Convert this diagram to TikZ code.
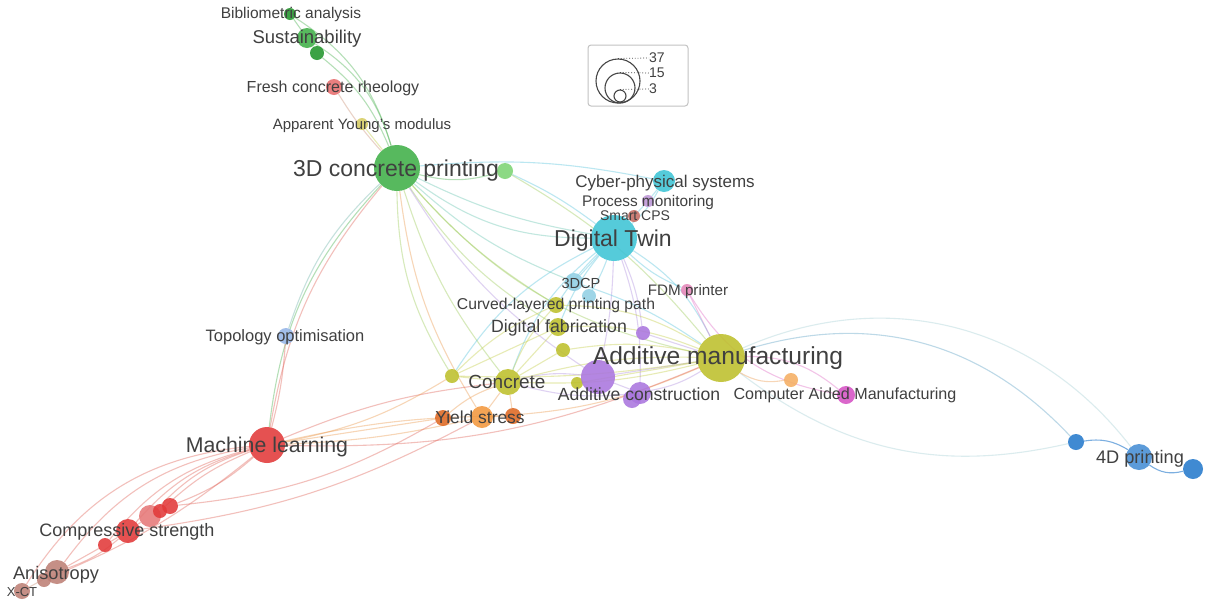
\documentclass[tikz,border=0pt]{standalone}
\usepackage{fontspec}
\setmainfont{Liberation Sans}
\pgfdeclarelayer{back}
\pgfdeclarelayer{bg}
\pgfsetlayers{back,bg,main}
\definecolor{txt}{RGB}{64,64,64}
\definecolor{cgreen}{RGB}{64,176,72}
\definecolor{cdkgreen}{RGB}{34,150,44}
\definecolor{clgreen}{RGB}{125,212,115}
\definecolor{cred}{RGB}{226,58,58}
\definecolor{clred}{RGB}{232,110,110}
\definecolor{cpred}{RGB}{230,120,120}
\definecolor{cyel}{RGB}{190,192,44}
\definecolor{cyell}{RGB}{215,205,100}
\definecolor{ccyan}{RGB}{62,196,214}
\definecolor{clcyan}{RGB}{145,208,228}
\definecolor{cpurp}{RGB}{170,118,222}
\definecolor{clpurp}{RGB}{190,150,215}
\definecolor{corange}{RGB}{243,152,62}
\definecolor{cdorange}{RGB}{222,104,34}
\definecolor{clorange}{RGB}{245,175,100}
\definecolor{cmag}{RGB}{214,82,196}
\definecolor{cpink}{RGB}{228,135,185}
\definecolor{cblue}{RGB}{38,122,204}
\definecolor{cmblue}{RGB}{70,142,212}
\definecolor{clblue}{RGB}{150,182,232}
\definecolor{cbrown}{RGB}{190,128,118}
\definecolor{cbrred}{RGB}{200,110,100}
\definecolor{gE}{RGB}{80,180,85}
\definecolor{gcE}{RGB}{110,200,180}
\definecolor{cE}{RGB}{95,198,222}
\definecolor{yE}{RGB}{198,208,80}
\definecolor{ygE}{RGB}{160,205,95}
\definecolor{rE}{RGB}{226,105,95}
\definecolor{oE}{RGB}{236,158,85}
\definecolor{pE}{RGB}{180,150,226}
\definecolor{mE}{RGB}{226,115,200}
\definecolor{bE}{RGB}{100,165,200}
\definecolor{lbE}{RGB}{170,210,215}
\definecolor{brE}{RGB}{205,150,125}
\definecolor{gbE}{RGB}{120,185,175}
\definecolor{legc}{RGB}{70,70,70}
\definecolor{legbox}{RGB}{195,195,195}
\newcommand\lsz[1]{\fontsize{#1}{#1}\selectfont}
\begin{document}
\begin{tikzpicture}[x=1pt,y=-1pt,
  dot/.style={circle,inner sep=0pt,draw=none,fill opacity=0.88},
  lbl/.style={text=txt,inner sep=0pt,text depth=0pt},
  e/.style={line width=1.1pt,draw opacity=0.42},
  legcirc/.style={circle,inner sep=0pt,draw=legc,line width=1.1pt}]
\useasboundingbox (0,0) rectangle (1207,603);
\begin{pgfonlayer}{back}
\fill[white] (0,0) rectangle (1207,603);
\end{pgfonlayer}

% ---------- nodes (circles) ----------
\node[dot,fill=cdkgreen,minimum size=12] (bib) at (290,14) {};
\node[dot,fill=cgreen,minimum size=20] (sus) at (307,38) {};
\node[dot,fill=cdkgreen,minimum size=14] (g3) at (317,53) {};
\node[dot,fill=clred,minimum size=16] (frc) at (334,87) {};
\node[dot,fill=cyell,minimum size=12] (ayg) at (362,124) {};
\node[dot,fill=cgreen,minimum size=46] (c3d) at (397,168) {};
\node[dot,fill=clgreen,minimum size=16] (g4) at (505,171) {};
\node[dot,fill=ccyan,minimum size=22] (cps) at (664,181) {};
\node[dot,fill=clpurp,minimum size=12] (pm) at (648,201) {};
\node[dot,fill=cbrred,minimum size=12] (scps) at (634,216) {};
\node[dot,fill=ccyan,minimum size=46] (dt) at (614,238) {};
\node[dot,fill=clcyan,minimum size=18] (dcp) at (574,282) {};
\node[dot,fill=clcyan,minimum size=14] (c2) at (589,296) {};
\node[dot,fill=cpink,minimum size=12] (fdm) at (687,290) {};
\node[dot,fill=cyel,minimum size=16] (cur) at (556,305) {};
\node[dot,fill=cyel,minimum size=18] (dfab) at (558,327) {};
\node[dot,fill=cyel,minimum size=14] (y3) at (563,350) {};
\node[dot,fill=cpurp,minimum size=14] (p2) at (643,333) {};
\node[dot,fill=cyel,minimum size=48] (am) at (721,358) {};
\node[dot,fill=cyel,minimum size=26] (con) at (508,382) {};
\node[dot,fill=cyel,minimum size=14] (y4) at (452,376) {};
\node[dot,fill=cyel,minimum size=12] (y5) at (577,383) {};
\node[dot,fill=cpurp,minimum size=34] (p1) at (598,377) {};
\node[dot,fill=cpurp,minimum size=22] (acon) at (640,393) {};
\node[dot,fill=cpurp,minimum size=18] (p3) at (632,399) {};
\node[dot,fill=clorange,minimum size=14] (o1) at (791,380) {};
\node[dot,fill=cmag,minimum size=18] (cam) at (846,395) {};
\node[dot,fill=corange,minimum size=22] (ys) at (482,417) {};
\node[dot,fill=cdorange,minimum size=16] (o2) at (443,418) {};
\node[dot,fill=cdorange,minimum size=16] (o3) at (513,416) {};
\node[dot,fill=cred,minimum size=36] (ml) at (267,445) {};
\node[dot,fill=clblue,minimum size=16] (topo) at (286,336) {};
\node[dot,fill=cred,minimum size=24] (cs) at (128,531) {};
\node[dot,fill=cpred,minimum size=22] (r1) at (150,516) {};
\node[dot,fill=cred,minimum size=14] (r2) at (160,511) {};
\node[dot,fill=cred,minimum size=16] (r3) at (170,506) {};
\node[dot,fill=cred,minimum size=14] (r4) at (105,545) {};
\node[dot,fill=cbrown,minimum size=24] (ani) at (57,572) {};
\node[dot,fill=cbrown,minimum size=14] (b2) at (44,580) {};
\node[dot,fill=cbrown,minimum size=16] (xct) at (22,591) {};
\node[dot,fill=cblue,minimum size=16] (bl1) at (1076,442) {};
\node[dot,fill=cmblue,minimum size=26] (fd) at (1139,457) {};
\node[dot,fill=cblue,minimum size=20] (bl2) at (1193,469) {};

% ---------- edges ----------
\begin{pgfonlayer}{bg}
% green cluster
\draw[e,gE] (c3d) to[bend right=20] (bib);
\draw[e,gE] (c3d) to[bend right=20] (sus);
\draw[e,gE] (c3d) to[bend right=14] (g3);
\draw[e,gE] (sus) -- (bib);
\draw[e,gE] (sus) -- (g3);
\draw[e,gE] (c3d) to[bend right=15] (g4);
\draw[e,brE] (c3d) to[bend left=5] (frc);
\draw[e,yE] (c3d) -- (ayg);
\draw[e,gbE] (c3d) to[bend right=14] (topo);
\draw[e,gE] (c3d) to[bend right=18] (ml);
\draw[e,gcE] (c3d) to[bend right=8] (dt);
\draw[e,gcE] (c3d) to[bend right=18] (dt);
\draw[e,cE] (c3d) to[bend left=8] (cps);
\draw[e,ygE] (c3d) to[bend right=18] (am);
\draw[e,ygE] (c3d) to[bend right=10] (con);
\draw[e,ygE] (c3d) to[bend right=12] (dfab);
\draw[e,ygE] (c3d) to[bend right=8] (cur);
\draw[e,gcE] (c3d) to[bend right=10] (dcp);
\draw[e,pE] (c3d) to[bend right=12] (p1);
\draw[e,ygE] (c3d) to[bend right=15] (y4);
\draw[e,oE] (c3d) to[bend right=12] (ys);
\draw[e,cE] (g4) to[bend left=6] (dt);
\draw[e,ygE] (g4) to[bend left=10] (am);
% digital twin
\draw[e,cE] (dt) to[bend right=10] (cps);
\draw[e,cE] (dt) -- (pm);
\draw[e,cE] (dt) -- (scps);
\draw[e,cE] (cps) -- (pm);
\draw[e,cE] (dt) -- (dcp);
\draw[e,cE] (dt) to[bend left=5] (c2);
\draw[e,cE] (dt) to[bend right=10] (fdm);
\draw[e,cE] (dt) to[bend left=15] (am);
\draw[e,cE] (dt) to[bend right=15] (con);
\draw[e,cE] (dt) to[bend right=8] (dfab);
\draw[e,cE] (dt) to[bend right=5] (cur);
\draw[e,pE] (dt) to[bend left=5] (p1);
\draw[e,pE] (dt) to[bend left=8] (p2);
\draw[e,pE] (dt) to[bend left=10] (acon);
\draw[e,cE] (dt) to[bend right=15] (y4);
% additive manufacturing
\draw[e,lbE] (am) to[bend right=25] (bl1);
\draw[e,bE] (am) to[bend left=32] (bl1);
\draw[e,lbE] (am) to[bend left=38] (fd);
\draw[e,cblue,draw opacity=0.6] (bl1) to[bend left=20] (fd);
\draw[e,cblue,draw opacity=0.6] (fd) to[bend right=25] (bl2);
\draw[e,mE] (am) to[bend left=20] (cam);
\draw[e,mE] (fdm) to[bend right=25] (cam);
\draw[e,oE] (am) to[bend right=20] (o1);
\draw[e,yE] (am) to[bend left=8] (con);
\draw[e,yE] (am) to[bend right=8] (con);
\draw[e,oE] (am) to[bend left=10] (ys);
\draw[e,rE] (am) to[bend left=12] (ml);
\draw[e,pE] (am) -- (p1);
\draw[e,pE] (am) to[bend left=10] (acon);
\draw[e,yE] (am) to[bend right=10] (y3);
\draw[e,yE] (am) to[bend right=12] (dfab);
\draw[e,yE] (am) to[bend right=15] (cur);
\draw[e,yE] (am) to[bend left=5] (y4);
\draw[e,yE] (am) -- (y5);
\draw[e,cE] (am) to[bend right=8] (dcp);
\draw[e,pE] (am) -- (p2);
\draw[e,mE] (am) -- (fdm);
% concrete / yield stress
\draw[e,yE] (con) -- (y4);
\draw[e,oE] (con) -- (ys);
\draw[e,oE] (con) to[bend right=10] (o2);
\draw[e,oE] (con) -- (o3);
\draw[e,pE] (con) to[bend left=10] (p1);
\draw[e,yE] (con) -- (dfab);
\draw[e,yE] (con) to[bend left=10] (cur);
\draw[e,yE] (con) -- (y3);
\draw[e,pE] (con) to[bend right=10] (acon);
\draw[e,rE] (con) to[bend right=8] (ml);
\draw[e,oE] (y4) to[bend left=10] (ml);
\draw[e,oE] (ys) to[bend left=5] (ml);
\draw[e,oE] (o2) -- (ml);
\draw[e,oE] (o3) to[bend right=6] (ml);
\draw[e,rE] (o2) to[bend left=12] (r3);
\draw[e,rE] (ys) to[bend left=10] (cs);
\draw[e,yE] (dfab) -- (y4);
\draw[e,yE] (cur) to[bend right=10] (y4);
\draw[e,pE] (p1) -- (acon);
\draw[e,pE] (p1) -- (y5);
% machine learning
\draw[e,rE] (ml) to[bend left=10] (r3);
\draw[e,rE] (ml) to[bend right=10] (r2);
\draw[e,rE] (ml) to[bend right=14] (r1);
\draw[e,rE] (ml) to[bend right=16] (cs);
\draw[e,rE] (ml) to[bend right=18] (r4);
\draw[e,rE] (ml) to[bend right=22] (ani);
\draw[e,rE] (ml) to[bend right=26] (xct);
\draw[e,rE] (ml) to[bend left=8] (b2);
\draw[e,rE] (cs) -- (r1);
\draw[e,rE] (r1) -- (r2);
\draw[e,rE] (r2) -- (r3);
\draw[e,rE] (cs) -- (r4);
\draw[e,rE] (cs) to[bend left=10] (ani);
\draw[e,rE] (r4) -- (ani);
\draw[e,brE] (ani) -- (xct);
\draw[e,brE] (ani) -- (b2);
\draw[e,rE] (ml) to[bend right=5] (topo);
\draw[e,rE] (ml) to[bend left=15] (c3d);
\end{pgfonlayer}

% ---------- labels ----------
\node[lbl,font={\lsz{15.5}}] (bib-l) at (291,13) {Bibliometric analysis};
\node[lbl,font={\lsz{18.5}}] (sus-l) at (307,37) {Sustainability};
\node[lbl,font={\lsz{16}}] (frc-l) at (333,87) {Fresh concrete rheology};
\node[lbl,font={\lsz{15}}] (ayg-l) at (362,124) {Apparent Young's modulus};
\node[lbl,font={\lsz{23}}] (c3d-l) at (396,168) {3D concrete printing};
\node[lbl,font={\lsz{17}}] (cps-l) at (665,181) {Cyber-physical systems};
\node[lbl,font={\lsz{15.4}}] (pm-l) at (648,201) {Process monitoring};
\node[lbl,font={\lsz{14}}] (scps-l) at (635,216) {Smart CPS};
\node[lbl,font={\lsz{23}}] (dt-l) at (613,238) {Digital Twin};
\node[lbl,font={\lsz{14.6}}] (dcp-l) at (581,283) {3DCP};
\node[lbl,font={\lsz{15.2}}] (fdm-l) at (688,290) {FDM printer};
\node[lbl,font={\lsz{15.7}}] (cur-l) at (556,304) {Curved-layered printing path};
\node[lbl,font={\lsz{17.7}}] (dfab-l) at (559,326) {Digital fabrication};
\node[lbl,font={\lsz{24.6}}] (am-l) at (718,356) {Additive manufacturing};
\node[lbl,font={\lsz{19}}] (con-l) at (507,382) {Concrete};
\node[lbl,font={\lsz{17.6}}] (acon-l) at (639,394) {Additive construction};
\node[lbl,font={\lsz{16.1}}] (cam-l) at (845,394) {Computer Aided Manufacturing};
\node[lbl,font={\lsz{17.4}}] (ys-l) at (480,417) {Yield stress};
\node[lbl,font={\lsz{21.3}}] (ml-l) at (267,445) {Machine learning};
\node[lbl,font={\lsz{16.5}}] (topo-l) at (285,336) {Topology optimisation};
\node[lbl,font={\lsz{18}}] (cs-l) at (127,530) {Compressive strength};
\node[lbl,font={\lsz{18.2}}] (ani-l) at (56,573) {Anisotropy};
\node[lbl,font={\lsz{13}}] (xct-l) at (22,592) {X-CT};
\node[lbl,font={\lsz{18.2}}] (fd-l) at (1140,457) {4D printing};

% ---------- legend ----------
\node[draw=legbox,line width=1pt,rounded corners=3pt,minimum width=100,minimum height=61,inner sep=0pt] (legend) at (638,75.5) {};
\node[legcirc,minimum size=44] (lg37) at (618,81) {};
\node[legcirc,minimum size=30] (lg15) at (620,88) {};
\node[legcirc,minimum size=12] (lg3) at (620,96) {};
\node[text=txt,anchor=west,inner sep=0pt,font={\lsz{14}}] (t37) at (649,58) {37};
\node[text=txt,anchor=west,inner sep=0pt,font={\lsz{14}}] (t15) at (649,73) {15};
\node[text=txt,anchor=west,inner sep=0pt,font={\lsz{14}}] (t3) at (649,89) {3};
\draw[legc,dotted,line width=0.8pt] (lg37.north) -- (t37.west);
\draw[legc,dotted,line width=0.8pt] (lg15.north) -- (t15.west);
\draw[legc,dotted,line width=0.8pt] (lg3.north) -- (t3.west);
\end{tikzpicture}
\end{document}
